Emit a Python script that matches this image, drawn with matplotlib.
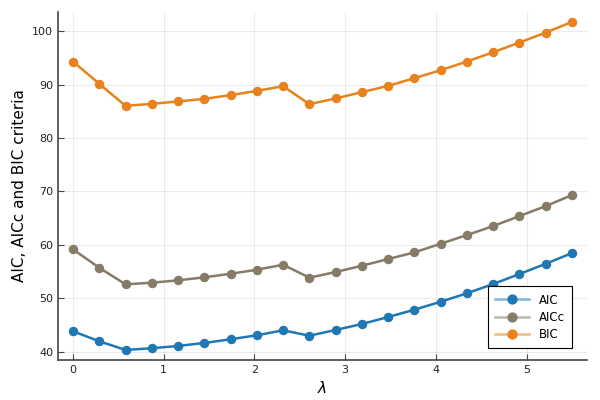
import numpy as np
import matplotlib
matplotlib.use("Agg")
import matplotlib.pyplot as plt
from matplotlib.colors import to_rgba

lam = np.linspace(0, 5.5, 20)
aic = [43.82, 41.95, 40.32, 40.64, 41.07, 41.63, 42.32, 43.07, 44.00, 42.99,
       44.06, 45.18, 46.49, 47.86, 49.35, 50.93, 52.67, 54.54, 56.46, 58.46]
aicc = [59.15, 55.72, 52.61, 52.91, 53.36, 53.92, 54.59, 55.34, 56.28, 53.85,
        54.91, 56.09, 57.34, 58.59, 60.21, 61.83, 63.52, 65.39, 67.26, 69.32]
bic = [94.33, 90.15, 86.03, 86.40, 86.85, 87.34, 88.03, 88.83, 89.71, 86.34,
       87.41, 88.59, 89.77, 91.21, 92.70, 94.33, 96.07, 97.88, 99.75, 101.75]
labels = ["AIC", "AICc", "BIC"]
colors = ["#1f77b4", "#857b66", "#e8821e"]

fig = plt.figure(figsize=(6, 4), dpi=100)
ax = fig.add_axes([0.0967, 0.1008, 0.8816, 0.8692])

for y, lab, c in zip([aic, aicc, bic], labels, colors):
    ax.plot(lam, y, color=c, lw=1.8, marker="o", ms=5.8, label=lab)

ax.set_xlim(-0.165, 5.665)
ax.set_ylim(38.5, 103.6)
ax.set_xticks([0, 1, 2, 3, 4, 5])
ax.set_yticks([40, 50, 60, 70, 80, 90, 100])
ax.grid(True, color="black", alpha=0.08, lw=0.8)
for s in ["top", "right"]:
    ax.spines[s].set_visible(False)
for s in ["left", "bottom"]:
    ax.spines[s].set_color("#444444")
    ax.spines[s].set_linewidth(1.2)
ax.tick_params(direction="in", length=4, width=0.8, color="#444444", labelsize=8, labelcolor="#222222")
ax.set_xlabel(r"$\lambda$", fontsize=11)
ax.set_ylabel("AIC, AICc and BIC criteria", fontsize=11)

leg = ax.legend(loc="lower right", fontsize=8.5, frameon=True, fancybox=False,
                edgecolor="black", borderpad=0.6, handlelength=2.9,
                labelspacing=0.35, markerscale=1.1,
                bbox_to_anchor=(0.982, 0.017), framealpha=1)
for line in leg.get_lines():
    r, g, b, _ = to_rgba(line.get_color())
    line.set_color((r, g, b, 0.55))
    line.set_markerfacecolor((r, g, b, 1))
    line.set_markeredgecolor((r, g, b, 1))
leg.get_frame().set_linewidth(0.8)

fig.savefig("out.png", dpi=100)
